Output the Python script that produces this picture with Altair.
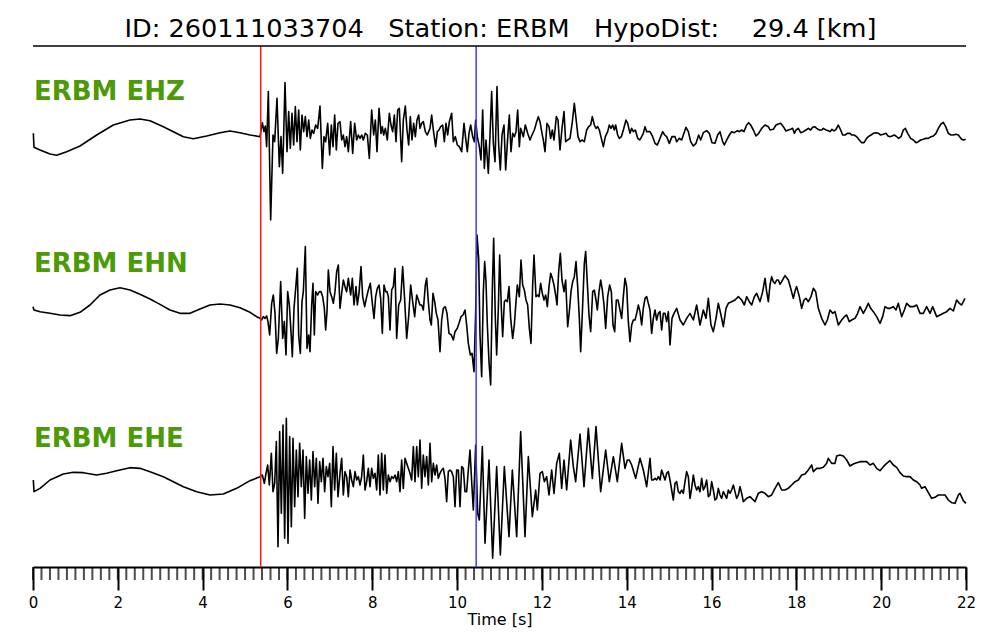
import altair as alt
import pandas as pd

# ---------------- data ----------------
NB = "\u00a0"
TITLE = f"ID: 260111033704{NB*3}Station: ERBM{NB*3}HypoDist:{NB*4}29.4 [km]"
CHANNELS = ["ERBM EHZ", "ERBM EHN", "ERBM EHE"]
SAMPLES_PER_SECOND = 2799 / 22.0   # digitised samples per second
P_PICK = 5.37                      # s
S_PICK = 10.45                     # s
TRACE_OFFSETS = [1291, 776, 251]   # vertical stacking of the three traces (counts)

# (sample index, amplitude in counts)
EHZ = [
    (1, 10), (3, -32), (21, -40), (51, -52), (71, -56), (101, -45), (141, -28), (191, 5), (241, 35),
    (291, 50), (321, 53), (351, 48), (391, 30), (421, 15), (451, 0), (481, -6), (521, 2), (561, 12),
    (591, 17), (621, 12), (651, 5), (681, 0),
    (688, 42), (693, 15), (697, 32), (701, -30), (706, 135), (713, -250), (720, 5), (725, -15),
    (732, 115), (739, -90), (744, 0), (749, -110), (756, 162), (762, -45), (767, 75), (772, -35),
    (777, 70), (782, -25), (787, 90), (792, -15), (797, 80), (802, -40), (807, 65), (812, 15),
    (817, 60), (822, 0), (827, 50), (832, -5), (837, 20), (842, 10), (848, 35), (854, 25),
    (861, 92), (868, -95), (873, 0), (878, -15), (884, 40), (890, -55), (895, 35), (900, -30),
    (905, 65), (910, -40), (915, 40),
    (921, 45), (926, -10), (931, 5), (936, -30), (941, 0), (946, -45), (953, 45), (959, -50),
    (965, 40), (971, -10), (976, 5), (981, -5), (986, 5), (991, -10), (997, 10), (1003, 5),
    (1009, -65), (1016, 80), (1022, 5), (1027, 50), (1032, -45), (1038, 85), (1044, 10), (1048, 30),
    (1052, 5), (1057, 25), (1063, -10), (1069, 70), (1074, 35), (1079, 15), (1084, 65), (1089, -15),
    (1094, 80), (1099, 85), (1106, -75), (1111, 50), (1117, 92), (1122, 20), (1127, -25), (1132, 60),
    (1137, -10), (1142, 40), (1147, 0), (1152, 50), (1157, 65), (1161, 25), (1166, 40), (1171, 45),
    (1177, 15), (1183, 5), (1191, 25), (1196, 65), (1201, 20), (1208, -30), (1213, 15), (1218, 20),
    (1223, 30), (1229, 35), (1234, -15), (1239, 40), (1244, 5), (1249, 45), (1256, 70), (1261, -15),
    (1267, 0), (1273, -25), (1279, -30), (1286, -45), (1293, 40), (1298, -5), (1303, -45), (1308, 10),
    (1313, 35), (1319, 0), (1324, -15), (1328, 50), (1333, 0), (1339, -30), (1344, -70), (1349, 80),
    (1354, -95), (1359, -10), (1366, -110), (1371, 5), (1376, 135), (1381, -20), (1386, -75),
    (1392, 150), (1397, -25), (1402, -100), (1407, 5), (1413, 35), (1418, -100), (1424, -5),
    (1429, 65), (1434, -45), (1439, 10), (1444, 0), (1449, 15), (1454, 80), (1459, -30), (1463, 25),
    (1471, 0), (1477, 35), (1484, 10), (1491, -10), (1497, 5), (1504, 20), (1511, 45), (1516, 60),
    (1521, 45), (1527, 10), (1531, -10), (1536, -45), (1542, 40), (1548, 30), (1553, -5), (1558, 20),
    (1563, -10), (1570, 60), (1575, 50), (1581, -40), (1587, 25), (1593, 75), (1598, -15), (1604, -10),
    (1611, -5), (1618, 45), (1624, 100), (1629, 55), (1635, 0), (1641, -15), (1647, -10), (1654, -15),
    (1661, 20), (1667, 30), (1673, 35), (1678, 60), (1684, 35), (1689, 25), (1694, 30), (1699, 20),
    (1705, -5), (1711, -30), (1717, 0), (1724, 15), (1729, 35), (1734, 25), (1739, 35), (1744, 20),
    (1748, 35), (1754, 5), (1759, -5), (1765, 0), (1771, 20), (1779, 50), (1784, 40), (1791, 10),
    (1796, 25), (1801, 15), (1807, 20), (1814, -5), (1820, -10), (1826, 0), (1831, 10), (1836, 30),
    (1841, 15),
    (1851, 15), (1859, 0), (1866, -20), (1873, -25), (1881, -5), (1889, 15), (1895, 5), (1901, 0),
    (1909, -20), (1917, 0), (1926, 0), (1931, -15), (1939, -5), (1946, -10), (1951, 5), (1959, 28),
    (1966, 15), (1973, -15), (1981, -28), (1989, -20), (1997, 5), (2003, -10), (2011, 12), (2021, 18),
    (2029, 10), (2037, -18), (2046, -20), (2054, 5), (2061, 15), (2069, -15), (2074, -25), (2081, -10),
    (2089, 5), (2096, 15), (2104, 12), (2113, 18), (2119, 15), (2126, 20), (2133, 15), (2141, 35),
    (2147, 42), (2153, 35), (2161, 20), (2169, 2), (2177, 10), (2186, 25), (2196, 35), (2206, 30),
    (2211, 20), (2221, 22), (2229, 35), (2236, 38), (2243, 40), (2251, 30), (2259, 17), (2266, 20),
    (2273, 22), (2279, 25), (2284, 10), (2289, 20), (2296, 25), (2303, 12), (2311, 15), (2319, 20),
    (2326, 25), (2333, 20), (2339, 28), (2345, 30), (2351, 25), (2359, 20), (2366, 20), (2371, 25),
    (2379, 20), (2386, 18), (2391, 15), (2397, 22), (2403, 17), (2409, 22), (2416, 35), (2423, 20),
    (2429, 5), (2436, 5), (2443, 10), (2451, 10), (2456, 5), (2463, 5), (2471, 0), (2479, -10),
    (2486, -18), (2493, -18), (2501, -5), (2506, 0), (2514, 5), (2521, 10), (2529, 12), (2536, 10),
    (2543, 5), (2551, 7), (2559, 10), (2565, 2), (2571, 0), (2577, 2), (2584, 5), (2591, 0),
    (2597, -5), (2604, 0), (2611, 20), (2617, 25), (2624, 10), (2633, -5), (2641, -10), (2649, -18),
    (2656, -15), (2663, -10), (2671, -8), (2679, -5), (2686, -5), (2694, 0), (2701, 2), (2709, 10),
    (2716, 25), (2724, 38), (2731, 43), (2738, 30), (2746, 10), (2754, 5), (2761, 5), (2769, 7),
    (2776, 5), (2781, -2), (2786, -8), (2791, -10), (2798, -8),
]

EHN = [
    (0, 5), (3, -5), (21, -10), (51, -15), (81, -20), (111, -22), (141, -12), (171, 10), (201, 40),
    (231, 55), (261, 62), (291, 55), (321, 42), (351, 28), (381, 12), (411, -5), (441, -15), (471, -15),
    (501, -2), (531, 10), (561, 13), (591, 10), (621, 2), (651, -12), (671, -25), (681, -30),
    (686, -35), (691, -25), (696, -30), (701, -23), (705, -40), (710, -80), (716, 15), (721, 40),
    (726, -15), (731, -135), (736, -90), (743, 80), (749, -90), (754, -40), (759, -140), (764, 50),
    (769, 10), (774, -70), (778, -145), (783, 0), (788, 60), (793, 120), (797, -80), (802, -135),
    (807, 20), (811, 50), (817, 185), (822, -120), (827, -80), (831, -130), (836, 10), (840, 75),
    (844, -80), (848, 50), (854, 40), (859, 50), (864, 50), (869, 35), (874, 0), (878, -65),
    (882, -10), (886, 115), (891, 50), (896, 35), (901, 15), (906, 50), (911, 110), (916, 130),
    (921, 0), (926, 45), (931, 85), (936, 65), (941, 50), (946, 90), (953, 40), (958, 90), (963, 10),
    (969, 65), (973, 10), (978, 45), (984, 125), (989, 35), (995, 5), (1000, 30), (1006, 55),
    (1012, 75), (1018, 15), (1023, -30), (1028, 35), (1033, 60), (1038, 70), (1043, 30), (1048, -75),
    (1053, 70), (1058, 50), (1062, 50), (1066, 35), (1071, -65), (1076, 55), (1081, 65), (1086, 120),
    (1091, -90), (1097, 10), (1103, 25), (1109, 125), (1115, 25), (1121, -90), (1127, -25), (1133, 70),
    (1139, 20), (1145, -25), (1151, 40), (1156, 25), (1161, 10), (1166, 10), (1171, -5), (1177, 70),
    (1181, 90), (1186, 20), (1191, -35), (1195, -50), (1200, 45), (1205, 20), (1210, -15), (1215, -35),
    (1221, -130), (1226, -35), (1231, 0), (1237, 5), (1242, -15), (1248, -75), (1255, -80), (1261, -95),
    (1266, -70), (1273, -60), (1278, -45), (1284, -25), (1290, -20), (1296, -5), (1301, -50),
    (1306, -105), (1312, -140), (1317, -135), (1323, -190), (1328, -10), (1332, 220), (1337, 150),
    (1341, -80), (1346, -205), (1351, 50), (1355, 140), (1359, 80), (1363, -50), (1368, -160),
    (1373, -230), (1378, 60), (1382, 210), (1387, -30), (1391, -140), (1396, 0), (1400, 160),
    (1405, 0), (1409, -85), (1414, 20), (1418, 25), (1423, 20), (1428, 65), (1433, -30), (1439, -90),
    (1444, -50), (1449, 20), (1453, 70), (1459, 35), (1464, 145), (1469, 70), (1474, 55), (1479, 25),
    (1484, 10), (1489, -60), (1494, -105), (1499, 70), (1503, 160), (1509, 35), (1514, 40), (1518, 35),
    (1523, 75), (1528, 45), (1533, 25), (1538, 40), (1543, 5), (1548, 65), (1553, 105), (1558, 90),
    (1563, 70), (1568, 40), (1572, 10), (1577, 110), (1582, 165), (1587, 85), (1593, 50), (1598, 85),
    (1604, -55), (1609, -10), (1614, 50), (1619, 80), (1624, 95), (1629, 140), (1634, 65), (1639, -30),
    (1643, -130), (1649, 10), (1654, 135), (1658, 170), (1663, 75), (1668, -20), (1673, -70),
    (1679, 50), (1684, 55), (1689, 25), (1693, -5), (1698, 50), (1703, 85), (1708, 55), (1713, 10),
    (1718, -60), (1724, 35), (1730, 70), (1735, 50), (1740, -50), (1745, -70), (1750, 25), (1755, 25),
    (1761, -5), (1766, -30), (1771, 35), (1776, 90), (1781, 65), (1786, -40), (1791, -100),
    (1796, -50), (1801, -35), (1806, -35), (1811, -15), (1816, 10), (1821, -10), (1826, -50),
    (1831, 0), (1836, 30), (1841, 35),
    (1851, -5), (1856, -75), (1861, -30), (1866, -5), (1871, -35), (1876, -15), (1881, -10),
    (1886, -65), (1891, -15), (1896, -15), (1901, -40), (1906, -10), (1911, -110), (1917, -30),
    (1923, -15), (1931, 0), (1941, -35), (1951, -50), (1961, -30), (1971, -15), (1981, -35),
    (1991, 10), (2001, -50), (2011, -5), (2019, -30), (2026, 30), (2034, -50), (2041, -70),
    (2049, -30), (2056, 15), (2064, -20), (2071, -55), (2079, 0), (2086, 15), (2096, 20), (2106, 25),
    (2116, 35), (2126, 25), (2134, 10), (2141, 35), (2149, 20), (2156, 10), (2164, 35), (2171, 45),
    (2181, 20), (2189, 50), (2196, 90), (2201, 50), (2206, 20), (2211, 70), (2216, 95), (2221, 80),
    (2226, 75), (2231, 85), (2236, 85), (2241, 72), (2246, 80), (2256, 98), (2261, 92), (2266, 85),
    (2273, 60), (2281, 30), (2287, 55), (2291, 65), (2299, 35), (2306, 0), (2313, 25), (2319, 30),
    (2326, 20), (2334, 35), (2341, 60), (2348, 50), (2356, 0), (2366, -30), (2376, -50), (2383, -35),
    (2391, -5), (2399, -15), (2406, -10), (2416, -50), (2426, -35), (2434, -25), (2441, -20),
    (2449, -40), (2456, -35), (2466, -30), (2474, -15), (2481, 5), (2491, -15), (2499, 0), (2506, 15),
    (2513, 0), (2521, -10), (2531, -25), (2541, -45), (2549, -25), (2556, 5), (2564, 0), (2571, 0),
    (2581, 5), (2589, -5), (2596, 15), (2606, -25), (2614, -5), (2621, 15), (2631, 5), (2641, 5),
    (2651, 10), (2661, -15), (2671, -15), (2681, 5), (2691, -15), (2699, 5), (2711, -25), (2721, -20),
    (2731, -15), (2741, -10), (2751, 0), (2761, -8), (2771, 25), (2779, 15), (2786, 10), (2796, 30),
]

EHE = [
    (1, 10), (3, -25), (21, -15), (51, 10), (91, 28), (121, 33), (151, 32), (191, 25), (221, 30),
    (251, 38), (291, 47), (321, 45), (351, 35), (391, 20), (421, 5), (451, -10), (491, -25), (531, -35),
    (571, -32), (611, -15), (651, 8), (681, 20),
    (688, 25), (694, 0), (699, 30), (704, 55), (709, -5), (715, 90), (720, -25), (725, 0), (730, 125),
    (735, -190), (740, 155), (745, -90), (750, 175), (755, -165), (760, 195), (765, -180), (770, 140),
    (775, -130), (780, 135), (785, -70), (790, 100), (795, -40), (800, 120), (805, -10), (810, 100),
    (815, -105), (820, 80), (825, -30), (830, 70), (835, -50), (840, 95), (845, -10), (850, 75),
    (855, -60), (860, 65), (865, 5), (870, 75), (875, -25), (880, 50), (885, 20), (890, 60),
    (895, -70), (900, 110), (905, -20), (910, 90), (915, -40),
    (921, 30), (926, 75), (931, -35), (936, 35), (941, 20), (946, -40), (951, 40), (956, 10),
    (961, -10), (966, 35), (971, 10), (976, 20), (981, -5), (986, 20), (991, 85), (996, -20),
    (1001, 5), (1006, 45), (1011, -10), (1016, 45), (1021, 15), (1026, 30), (1031, -20), (1036, 85),
    (1041, -35), (1046, 90), (1051, -20), (1056, 85), (1061, -30), (1066, 25), (1071, 5), (1076, 20),
    (1081, 15), (1086, 25), (1091, 5), (1096, 35), (1101, -25), (1106, 70), (1111, -15), (1116, 75),
    (1121, 60), (1126, 45), (1131, 30), (1136, 10), (1141, 110), (1146, 5), (1151, 110), (1156, 20),
    (1161, 130), (1166, -15), (1171, 85), (1176, 20), (1181, 80), (1186, -5), (1191, 120), (1196, 5),
    (1201, 60), (1206, 25), (1211, 55), (1216, 15), (1221, 30), (1226, 40), (1231, 45), (1236, 15),
    (1241, -55), (1246, 35), (1251, 40), (1256, 35), (1261, 20), (1266, -70), (1271, 40), (1276, 40),
    (1281, -70), (1286, 50), (1291, 45), (1296, -25), (1301, -25), (1306, 40), (1311, 100), (1316, 5),
    (1321, -80), (1328, 115), (1334, -90), (1339, -110), (1348, 110), (1356, -180), (1368, 70),
    (1379, -225), (1391, 50), (1402, -215), (1414, 50), (1428, -160), (1438, 40), (1451, -160),
    (1463, 155), (1476, -160), (1486, 80), (1498, -100), (1508, -20), (1513, -80), (1521, 30),
    (1528, 35), (1534, 5), (1541, 20), (1548, -35), (1556, 40), (1563, -30), (1571, 60), (1579, 90),
    (1586, -15), (1593, 70), (1601, -20), (1613, 130), (1621, 50), (1628, 5), (1641, 148), (1653, -10),
    (1666, 165), (1678, 15), (1689, 170), (1703, -25), (1718, 100), (1729, 5), (1741, 80), (1753, 5),
    (1766, 120), (1776, 45), (1783, 70), (1789, 70), (1796, 55), (1808, 15), (1821, 75), (1831, 40),
    (1841, -10),
    (1851, 75), (1856, 10), (1861, 10), (1866, 15), (1871, 10), (1876, 20), (1881, 10), (1886, 40),
    (1891, 25), (1896, 10), (1901, 30), (1906, 35), (1911, 10), (1916, -20), (1921, -50), (1926, 0),
    (1931, 5), (1936, -25), (1941, -30), (1946, -20), (1951, -30), (1956, 5), (1961, 35), (1966, 20),
    (1971, -45), (1976, -15), (1981, 25), (1986, -5), (1991, -20), (1996, -10), (2001, -25), (2006, 15),
    (2011, -20), (2016, -10), (2021, 10), (2026, -40), (2031, -35), (2036, 5), (2041, -20), (2046, -50),
    (2051, -45), (2056, -15), (2061, -35), (2066, -45), (2071, -25), (2076, -35), (2081, -45),
    (2086, -20), (2091, -30), (2096, -20), (2101, -5), (2106, -25), (2111, -45), (2116, -35),
    (2121, -10), (2126, -30), (2131, -55), (2136, -50), (2141, -45), (2151, -40), (2161, -50),
    (2166, -55), (2176, -30), (2186, -25), (2196, -30), (2206, -40), (2216, -35), (2226, -15),
    (2236, 2), (2246, -20), (2256, -20), (2266, -15), (2276, -5), (2286, 5), (2296, 10), (2306, 25),
    (2316, 28), (2326, 40), (2336, 55), (2341, 35), (2351, 45), (2361, 45), (2371, 48), (2381, 60),
    (2386, 75), (2396, 60), (2406, 60), (2411, 82), (2421, 85), (2431, 82), (2441, 70), (2451, 52),
    (2461, 58), (2471, 62), (2481, 65), (2491, 65), (2501, 65), (2511, 55), (2521, 60), (2531, 45),
    (2541, 38), (2551, 50), (2561, 60), (2571, 68), (2581, 55), (2591, 48), (2601, 32), (2611, 22),
    (2621, 20), (2631, 20), (2641, 10), (2651, 5), (2661, -5), (2666, -15), (2676, -10), (2686, -28),
    (2696, -45), (2706, -42), (2716, -35), (2726, -35), (2736, -35), (2746, -50), (2756, -58),
    (2766, -60), (2776, -35), (2781, -30), (2791, -52), (2799, -60),
]

MINOR_TICKS = [round(i * 0.2, 1) for i in range(111)]
MAJOR_TICKS = list(range(0, 23, 2))

# ---------------- tables ----------------
rows = []
for name, off, trace in zip(CHANNELS, TRACE_OFFSETS, [EHZ, EHN, EHE]):
    for n, a in trace:
        rows.append({"channel": name, "n": n, "t": n / SAMPLES_PER_SECOND, "v": off + a})
wave = pd.DataFrame(rows)
labels = pd.DataFrame({"channel": CHANNELS, "off": TRACE_OFFSETS})
picks = pd.DataFrame({"t": [P_PICK, S_PICK], "phase": ["P", "S"]})
title_df = pd.DataFrame({"title": [TITLE]})
minor_df = pd.DataFrame({"t": MINOR_TICKS})

W, H = 933, 521
xscale = alt.Scale(domain=[0, 22], nice=False, zero=False)
yscale = alt.Scale(domain=[0, 1563], nice=False, zero=False)

xaxis = alt.Axis(
    values=MAJOR_TICKS,
    tickSize=23,
    tickWidth=2, tickColor="black",
    domainWidth=2, domainColor="black",
    format="d",
    labelOverlap=False, labelFlush=False,
    labelFont="DejaVu Sans", labelFontSize=15, labelColor="black", labelPadding=5,
    title="Time [s]", titleFont="DejaVu Sans", titleFontSize=16, titleFontWeight="normal",
    titleColor="black", titlePadding=1,
    grid=False,
)

lines = alt.Chart(wave).mark_line(color="black", strokeWidth=1.6, strokeJoin="round").encode(
    x=alt.X("t:Q", scale=xscale, axis=xaxis),
    y=alt.Y("v:Q", scale=yscale, axis=None),
    detail="channel:N",
    order="n:Q",
)

pick_rules = alt.Chart(picks).mark_rule(strokeWidth=1.5).encode(
    x=alt.X("t:Q", scale=xscale, axis=xaxis),
    color=alt.Color("phase:N", scale=alt.Scale(domain=["P", "S"], range=["#ff1a1a", "#3c3cff"]),
                    legend=None),
)

minor_ticks = alt.Chart(minor_df).mark_tick(
    color="black", thickness=2, size=13, orient="vertical", yOffset=6.5, clip=False
).encode(
    x=alt.X("t:Q", scale=xscale, axis=xaxis),
    y=alt.value(H),
)

top_line = alt.Chart(title_df).mark_rule(color="black", strokeWidth=1.5).encode(
    x=alt.value(0), x2=alt.value(W), y=alt.value(0)
)

chan_text = alt.Chart(labels).transform_calculate(ly="datum.off + 110").mark_text(
    align="left", baseline="alphabetic", font="DejaVu Sans", fontSize=26, fontWeight="bold",
    color="#4c9a06",
).encode(x=alt.value(1), y=alt.Y("ly:Q", scale=yscale, axis=None), text="channel:N")

title_text = alt.Chart(title_df).mark_text(
    align="center", baseline="alphabetic", font="DejaVu Sans", fontSize=25.6, color="black"
).encode(x=alt.value(W / 2 + 1), y=alt.value(-9), text="title:N")

chart = alt.layer(lines, pick_rules, chan_text, top_line, title_text, minor_ticks).properties(
    width=W, height=H,
    autosize=alt.AutoSizeParams(type="none"),
    padding={"left": 25, "top": 38, "right": 26, "bottom": 70},
).configure_view(strokeWidth=0)

chart.save("out.html", embed_options={"renderer": "svg", "actions": False})
